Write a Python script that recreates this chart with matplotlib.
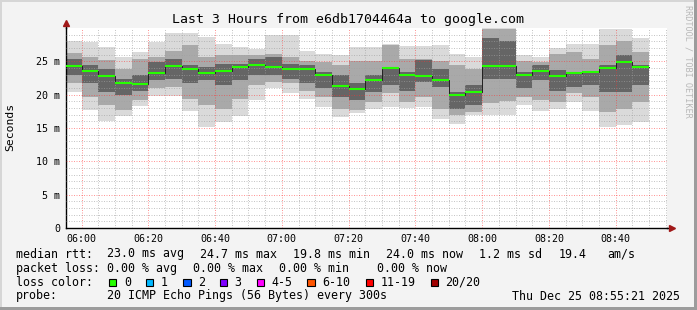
import matplotlib
matplotlib.use("Agg")
import matplotlib.pyplot as plt
import matplotlib.dates as mdates
from matplotlib.patches import Rectangle
import numpy as np
import pandas as pd

W, H = 697, 310
MONO = "DejaVu Sans Mono"

# 5 minute slots, 20 pings each
slot_start = pd.date_range("2025-12-25 05:55", periods=35, freq="5min")
t_from = pd.Timestamp("2025-12-25 05:55:21")
t_to = pd.Timestamp("2025-12-25 08:55:21")

median_ms = [24.25, 23.55, 22.75, 21.8, 21.55, 23.25, 24.25, 23.85, 23.25, 23.55,
             24.1, 24.45, 24.15, 23.85, 23.85, 22.9, 21.25, 20.8, 22.15, 23.95,
             22.9, 22.75, 22.15, 19.9, 20.4, 24.25, 24.25, 22.9, 23.55, 22.75,
             23.25, 23.4, 24.0, 24.85, 24.15]
# outer smoke (min / max ping)
smoke_hi = [28.0, 27.9, 27.2, 25.6, 26.4, 27.9, 29.3, 29.2, 28.6, 27.6,
            27.2, 26.8, 28.9, 28.9, 26.5, 26.1, 25.9, 27.2, 27.2, 27.6,
            27.3, 27.3, 27.4, 26.1, 25.6, 30.0, 30.0, 26.0, 25.6, 27.0,
            27.6, 27.6, 29.9, 29.9, 28.5]
smoke_lo = [20.4, 17.7, 16.1, 16.8, 18.3, 19.8, 19.8, 17.6, 15.1, 15.9,
            16.8, 19.2, 21.0, 20.2, 19.3, 18.1, 16.7, 17.2, 17.8, 18.2,
            18.0, 18.2, 16.4, 15.6, 16.9, 16.9, 16.9, 18.5, 17.6, 17.9,
            18.9, 17.6, 15.2, 15.4, 15.9]
# middle smoke
mid_hi = [26.3, 25.6, 25.2, 23.9, 25.4, 25.6, 26.6, 27.4, 25.6, 25.9,
          25.9, 25.9, 26.1, 25.6, 25.1, 24.9, 24.4, 25.1, 25.1, 27.4,
          25.4, 25.4, 25.1, 24.4, 23.9, 29.9, 29.9, 25.1, 24.9, 26.1,
          26.4, 25.4, 27.4, 28.1, 26.4]
mid_lo = [21.8, 19.6, 18.4, 17.7, 19.2, 21.0, 21.1, 19.4, 18.4, 17.9,
          19.4, 21.4, 21.9, 21.7, 20.6, 19.6, 17.9, 17.7, 18.9, 20.2,
          18.9, 19.6, 17.9, 16.9, 17.4, 18.8, 19.0, 19.6, 19.2, 18.9,
          20.2, 19.6, 17.4, 17.9, 18.9]
# inner smoke
inner_hi = [25.3, 24.5, 23.9, 22.4, 22.9, 24.9, 25.4, 24.4, 24.1, 24.6,
            24.6, 25.4, 25.6, 24.6, 24.4, 23.4, 22.9, 21.7, 22.9, 23.9,
            23.4, 25.2, 23.9, 20.4, 21.4, 28.5, 28.0, 23.4, 24.4, 23.7,
            23.4, 23.4, 24.4, 25.9, 24.4]
inner_lo = [23.0, 21.8, 20.4, 19.9, 20.6, 22.2, 22.4, 21.7, 22.2, 21.4,
            22.2, 22.9, 22.9, 22.4, 21.7, 21.0, 19.6, 19.2, 20.4, 21.4,
            20.6, 21.9, 21.1, 17.9, 18.4, 22.4, 22.4, 21.0, 22.2, 20.6,
            21.1, 21.4, 20.4, 20.4, 21.4]

loss_labels = ["0", "1", "2", "3", "4-5", "6-10", "11-19", "20/20"]
loss_colors = ["#26ff00", "#00b8ff", "#0059ff", "#7e00ff", "#ff00ff",
               "#ff5500", "#ff0000", "#a10000"]

y_ticks = [0, 5, 10, 15, 20, 25]
y_ticklabels = ["0", "5 m", "10 m", "15 m", "20 m", "25 m"]


def fx(px):
    return px / W


def fy(py):
    return 1 - py / H


fig = plt.figure(figsize=(W / 100, H / 100), dpi=100, facecolor="#f3f3f3")
ax = fig.add_axes([fx(66), fy(228), 601 / W, 200 / H])
ax.set_facecolor("white")

x = mdates.date2num(slot_start.to_pydatetime())
wid = 5 / 1440.0
for lo, hi, col in [(smoke_lo, smoke_hi, "#dadada"),
                    (mid_lo, mid_hi, "#a9a9a9"),
                    (inner_lo, inner_hi, "#656565")]:
    lo = np.array(lo)
    hi = np.array(hi)
    ax.bar(x, hi - lo, bottom=lo, width=wid, align="edge", color=col,
           linewidth=0, zorder=1)

med = np.array(median_ms)
ax.step(np.append(x, x[-1] + wid), np.append(med, med[-1]), where="post",
        color="#202020", lw=0.7, zorder=3)
ax.hlines(med, x, x + wid, colors=loss_colors[0], lw=1.5, zorder=4)

ax.set_xlim(mdates.date2num(t_from.to_pydatetime()),
            mdates.date2num(t_to.to_pydatetime()))
ax.set_ylim(0, 30)

ax.xaxis.set_major_locator(mdates.MinuteLocator(byminute=[0, 20, 40]))
ax.xaxis.set_minor_locator(mdates.MinuteLocator(byminute=range(0, 60, 5)))
ax.xaxis.set_major_formatter(mdates.DateFormatter("%H:%M"))
ax.set_yticks(y_ticks)
ax.set_yticklabels(y_ticklabels)
ax.set_yticks(np.arange(0, 30, 1), minor=True)

ax.set_axisbelow(False)
ax.grid(which="minor", color="#a0a0a0", alpha=0.6, ls=(0, (1, 1.5)), lw=0.72)
ax.grid(which="major", color="#ff3030", alpha=0.5, ls=(0, (1, 1.5)), lw=0.72)

ax.tick_params(which="both", length=0)
ax.tick_params(axis="y", pad=4.3, labelsize=7.2)
ax.tick_params(axis="x", pad=4.6, labelsize=7.2)
for lab in ax.get_xticklabels() + ax.get_yticklabels():
    lab.set_family(MONO)

for s in ["top", "right"]:
    ax.spines[s].set_visible(False)
for s in ["left", "bottom"]:
    ax.spines[s].set_color("black")
    ax.spines[s].set_linewidth(1.0)

# axis arrows
ax.plot([0, 0], [1, 1.015], color="black", lw=1.0, transform=ax.transAxes,
        clip_on=False)
ax.plot([1, 1.003], [0, 0], color="black", lw=1.0, transform=ax.transAxes,
        clip_on=False)
ax.plot([0], [1.025], marker="^", ms=4, color="#a01818",
        transform=ax.transAxes, clip_on=False)
ax.plot([1.008], [0], marker=">", ms=4, color="#a01818",
        transform=ax.transAxes, clip_on=False)

fig.text(0.5, fy(19), "Last 3 Hours from e6db1704464a to google.com",
         ha="center", va="center", fontsize=9.5, family=MONO)
fig.text(fx(10), fy(127), "Seconds", rotation=90, ha="center", va="center",
         fontsize=8.2, family=MONO)
fig.text(fx(688), fy(61), "RRDTOOL / TOBI OETIKER", rotation=270,
         ha="center", va="center", fontsize=6.1, family=MONO, color="#b8b8b8")

fs = 8.4
rows = [
    (254, [(16, "median rtt:"), (107, "23.0 ms avg"), (199.7, "24.7 ms max"),
           (293.3, "19.8 ms min"), (386, "24.0 ms now"), (479.3, "1.2 ms sd"),
           (558.3, "19.4"), (607.3, "am/s")]),
    (268.3, [(16, "packet loss:"), (107, "0.00 % avg"), (193.3, "0.00 % max"),
             (279.3, "0.00 % min"), (377.3, "0.00 % now")]),
    (282.3, [(16, "loss color:")]),
    (296, [(16, "probe:"), (107, "20 ICMP Echo Pings (56 Bytes) every 300s"),
           (512, "Thu Dec 25 08:55:21 2025")]),
]
for yy, items in rows:
    for xx, txt in items:
        fig.text(fx(xx), fy(yy), txt, ha="left", va="center", fontsize=fs,
                 family=MONO)

box_x = [108.7, 145.7, 183, 219.7, 256.7, 307.3, 365.7, 430.7]
lab_x = [124, 161, 198, 234.7, 271.3, 322, 380.7, 445.3]
for bx, lx, lab, col in zip(box_x, lab_x, loss_labels, loss_colors):
    fig.add_artist(Rectangle((fx(bx), fy(286.3)), 7.5 / W, 7.5 / H,
                             transform=fig.transFigure, facecolor=col,
                             edgecolor="black", lw=0.8))
    fig.text(fx(lx), fy(282.3), lab, ha="left", va="center", fontsize=fs,
             family=MONO)

# frame
fig.add_artist(Rectangle((0, 1 - 2 / H), 1, 2 / H, transform=fig.transFigure,
                         color="#d6d6d6", lw=0))
fig.add_artist(Rectangle((0, 0), 2 / W, 1, transform=fig.transFigure,
                         color="#d6d6d6", lw=0))
fig.add_artist(Rectangle((1 - 3 / W, 0), 3 / W, 1, transform=fig.transFigure,
                         color="#9c9c9c", lw=0))
fig.add_artist(Rectangle((0, 0), 1, 3 / H, transform=fig.transFigure,
                         color="#9c9c9c", lw=0))

fig.savefig("out.png", dpi=100, facecolor=fig.get_facecolor())
